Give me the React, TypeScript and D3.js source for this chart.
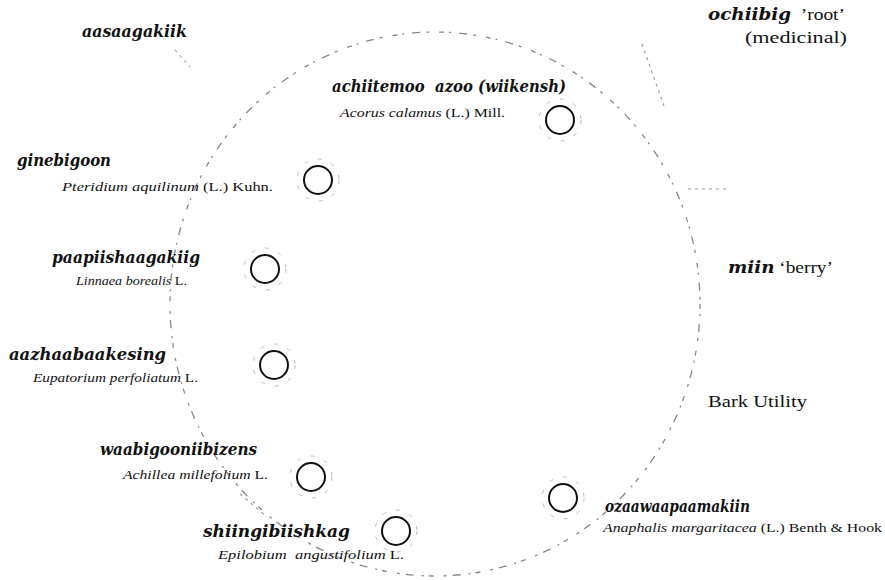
import React from "react";
import * as d3 from "d3";

// plant nodes: Anishinaabe name, Latin binomial, authority
const names = [
  "achiitemoo\u00a0\u00a0azoo (wiikensh)",
  "ginebigoon",
  "paapiishaagakiig",
  "aazhaabaakesing",
  "waabigooniibizens",
  "shiingibiishkag",
  "ozaawaapaamakiin",
];
const latin = [
  "Acorus calamus",
  "Pteridium aquilinum",
  "Linnaea borealis",
  "Eupatorium perfoliatum",
  "Achillea millefolium",
  "Epilobium\u00a0\u00a0angustifolium",
  "Anaphalis margaritacea",
];
const authority = [" (L.) Mill.", " (L.) Kuhn.", " L.", " L.", " L.", " L.", " (L.) Benth & Hook"];

// node centres in diagram units
const nodeX = [560, 318, 265, 274, 311, 396, 563];
const nodeY = [120, 180, 269, 365, 477, 531, 498];

// label anchors in diagram units: [name x, name baseline, name width, latin x, latin baseline, latin width]
const labelPos = [
  [332, 92, 234, 340, 117, 165],
  [17, 166, 94, 62, 191, 211],
  [52, 263, 148, 76, 285, 111],
  [9, 360, 157, 33, 382, 165],
  [100, 455, 157, 123, 479, 145],
  [203, 537, 147, 218, 559, 186],
  [605, 512, 145, 603, 532, 279],
];

// category labels around the ring
const categories = ["aasaagakiik", "ochiibig", "miin", "Bark Utility"];
const categoryGloss = ["", "\u00a0\u00a0\u2019root\u2019", " \u2018berry\u2019", ""];

// outer ring
const ring = { cx: 435, cy: 304, rx: 265, ry: 272 };

// faint connector traces
const traces = [
  [[175, 50], [190, 67]],
  [[642, 44], [664, 106]],
  [[688, 189], [726, 189]],
  [[240, 494], [266, 516]],
];

export default function App() {
  const W = 885;
  const H = 580;
  const x = d3.scaleLinear().domain([0, 885]).range([0, W]);
  const y = d3.scaleLinear().domain([0, 580]).range([0, H]);
  const line = d3.line<number[]>().x((d) => x(d[0])).y((d) => y(d[1]));
  const serif = "Liberation Serif, DejaVu Serif, serif";
  const boldSerif = "DejaVu Serif, Liberation Serif, serif";

  return (
    <div style={{ position: "absolute", left: 0, top: 0 }}>
      <svg width={W} height={H} style={{ display: "block", background: "#fff" }} fontFamily={serif}>
        <ellipse
          cx={x(ring.cx)}
          cy={y(ring.cy)}
          rx={x(ring.rx) - x(0)}
          ry={y(ring.ry) - y(0)}
          fill="none"
          stroke="#888"
          strokeWidth={1.3}
          strokeDasharray="5 5 2 8 8 6 3 10"
        />
        {traces.map((t, i) => (
          <path key={i} d={line(t) || ""} fill="none" stroke="#999" strokeWidth={1.1} strokeDasharray="3 4" />
        ))}

        {nodeX.map((nx, i) => (
          <g key={i}>
            <circle cx={x(nx)} cy={y(nodeY[i])} r={21} fill="none" stroke="#bbb" strokeWidth={1} strokeDasharray="4 10" />
            <circle cx={x(nx)} cy={y(nodeY[i])} r={14} fill="none" stroke="#111" strokeWidth={2} />
          </g>
        ))}

        {names.map((n, i) => {
          const p = labelPos[i];
          return (
            <g key={n} fill="#111">
              <text
                x={x(p[0])}
                y={y(p[1])}
                fontSize={16}
                fontWeight="bold"
                fontStyle="italic"
                fontFamily={boldSerif}
                textLength={p[2]}
                lengthAdjust="spacingAndGlyphs"
              >
                {n}
              </text>
              <text x={x(p[3])} y={y(p[4])} fontSize={13} textLength={p[5]} lengthAdjust="spacingAndGlyphs">
                <tspan fontStyle="italic">{latin[i]}</tspan>
                <tspan>{authority[i]}</tspan>
              </text>
            </g>
          );
        })}

        <g fill="#111">
          <text x={x(82)} y={y(37)} fontSize={16} fontWeight="bold" fontStyle="italic" fontFamily={boldSerif} textLength={105} lengthAdjust="spacingAndGlyphs">
            {categories[0]}
          </text>
          <text x={x(708)} y={y(20)} fontSize={17} textLength={137} lengthAdjust="spacingAndGlyphs">
            <tspan fontWeight="bold" fontStyle="italic" fontFamily={boldSerif} fontSize={16}>{categories[1]}</tspan>
            <tspan>{categoryGloss[1]}</tspan>
          </text>
          <text x={x(745)} y={y(43)} fontSize={16} textLength={102} lengthAdjust="spacingAndGlyphs">
            (medicinal)
          </text>
          <text x={x(728)} y={y(273)} fontSize={17} textLength={105} lengthAdjust="spacingAndGlyphs">
            <tspan fontWeight="bold" fontStyle="italic" fontFamily={boldSerif} fontSize={16}>{categories[2]}</tspan>
            <tspan>{categoryGloss[2]}</tspan>
          </text>
          <text x={x(708)} y={y(407)} fontSize={17} textLength={99} lengthAdjust="spacingAndGlyphs">
            {categories[3]}
          </text>
        </g>
      </svg>
    </div>
  );
}
